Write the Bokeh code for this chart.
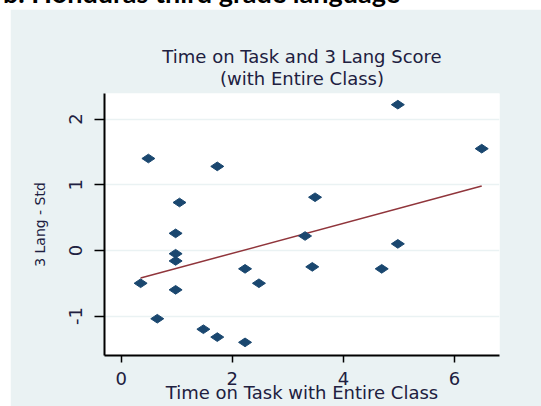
import math
from bokeh.plotting import figure
from bokeh.models import Div, Range1d, FixedTicker, Title
from bokeh.layouts import column
from bokeh.embed import file_html
from bokeh.resources import INLINE

# ---- data ----
time_on_task = [0.49, 1.73, 1.05, 0.98, 0.98, 0.98, 0.35, 0.98, 0.65, 1.48, 1.73,
                2.23, 2.23, 2.48, 3.31, 3.49, 3.44, 4.98, 4.98, 4.69, 6.49]
lang_std = [1.40, 1.28, 0.73, 0.26, -0.05, -0.16, -0.50, -0.60, -1.04, -1.20, -1.32,
            -1.40, -0.28, -0.50, 0.22, 0.81, -0.25, 2.22, 0.10, -0.28, 1.55]
fit_x = [0.35, 6.49]
fit_y = [-0.42, 0.98]
x_ticks = [0, 2, 4, 6]
y_ticks = [-1, 0, 1, 2]
y_tick_labels = {-1: "-1", 0: "0", 1: "1", 2: "2"}
header_text = "b. Honduras third grade language"
title_line1 = "Time on Task and 3 Lang Score"
title_line2 = "(with Entire Class)"
x_title = "Time on Task with Entire Class"
y_title = "3 Lang - Std"

PANEL = "#eaf2f3"
NAVY = "#1a476f"
MAROON = "#90353b"
TXT = "#202040"
FONT = "DejaVu Sans"

fig = figure(width=531, height=397, output_backend="svg", toolbar_location=None,
             x_range=Range1d(-0.30, 6.81), y_range=Range1d(-1.60, 2.39),
             min_border_left=94, min_border_right=42, min_border_top=84, min_border_bottom=51,
             background_fill_color="white", border_fill_color=PANEL,
             outline_line_color=None, title=None,
             styles={"position": "absolute", "left": "10px", "top": "9px"})

t2 = Title(text=title_line2, align="center", text_font=FONT, text_font_size="18px",
           text_font_style="normal", text_color=TXT, standoff=10)
try:
    t1 = Title(text=title_line1, align="center", text_font=FONT, text_font_size="18px",
               text_font_style="normal", text_color=TXT, standoff=-12)
except Exception:
    t1 = Title(text=title_line1, align="center", text_font=FONT, text_font_size="18px",
               text_font_style="normal", text_color=TXT, standoff=0)
fig.add_layout(t2, "above")
fig.add_layout(t1, "above")

fig.xgrid.visible = False
fig.ygrid.grid_line_color = PANEL
fig.ygrid.grid_line_width = 1.5
fig.ygrid.ticker = FixedTicker(ticks=y_ticks)

fig.line(fit_x, fit_y, line_color=MAROON, line_width=1.5)
fig.scatter(time_on_task, lang_std, marker="diamond", size=13, angle=math.pi / 2,
            fill_color=NAVY, line_color=NAVY)

for ax in (fig.xaxis[0], fig.yaxis[0]):
    ax.axis_line_color = "black"
    ax.axis_line_width = 2
    ax.major_tick_line_color = "black"
    ax.major_tick_line_width = 1.5
    ax.major_tick_in = 0
    ax.minor_tick_in = 0
    ax.minor_tick_out = 0
    ax.major_label_text_font = FONT
    ax.major_label_text_font_size = "18px"
    ax.major_label_text_color = TXT
    ax.axis_label_text_font = FONT
    ax.axis_label_text_font_style = "normal"
    ax.axis_label_text_color = TXT

fig.xaxis[0].ticker = FixedTicker(ticks=x_ticks)
fig.xaxis[0].major_tick_out = 7
fig.xaxis[0].major_label_standoff = 9
fig.xaxis[0].axis_label = x_title
fig.xaxis[0].axis_label_text_font_size = "18px"
fig.xaxis[0].axis_label_standoff = -6

fig.yaxis[0].ticker = FixedTicker(ticks=y_ticks)
fig.yaxis[0].major_label_overrides = y_tick_labels
fig.yaxis[0].major_tick_out = 10
fig.yaxis[0].major_label_standoff = 12
fig.yaxis[0].major_label_orientation = "vertical"
fig.yaxis[0].axis_label = y_title
fig.yaxis[0].axis_label_text_font_size = "14px"
fig.yaxis[0].axis_label_standoff = 19

hdr = Div(text=header_text, width=541, height=30,
          styles={"position": "absolute", "left": "3px", "top": "-19px",
                  "font-family": "Lato", "font-weight": "bold", "font-size": "27px",
                  "line-height": "24px", "color": "black", "white-space": "nowrap",
                  "margin": "0"})

p = column(hdr, fig, width=541, height=406, sizing_mode="fixed",
           styles={"position": "absolute", "left": "0px", "top": "0px"})

open("out.html", "w").write(file_html(p, INLINE))
